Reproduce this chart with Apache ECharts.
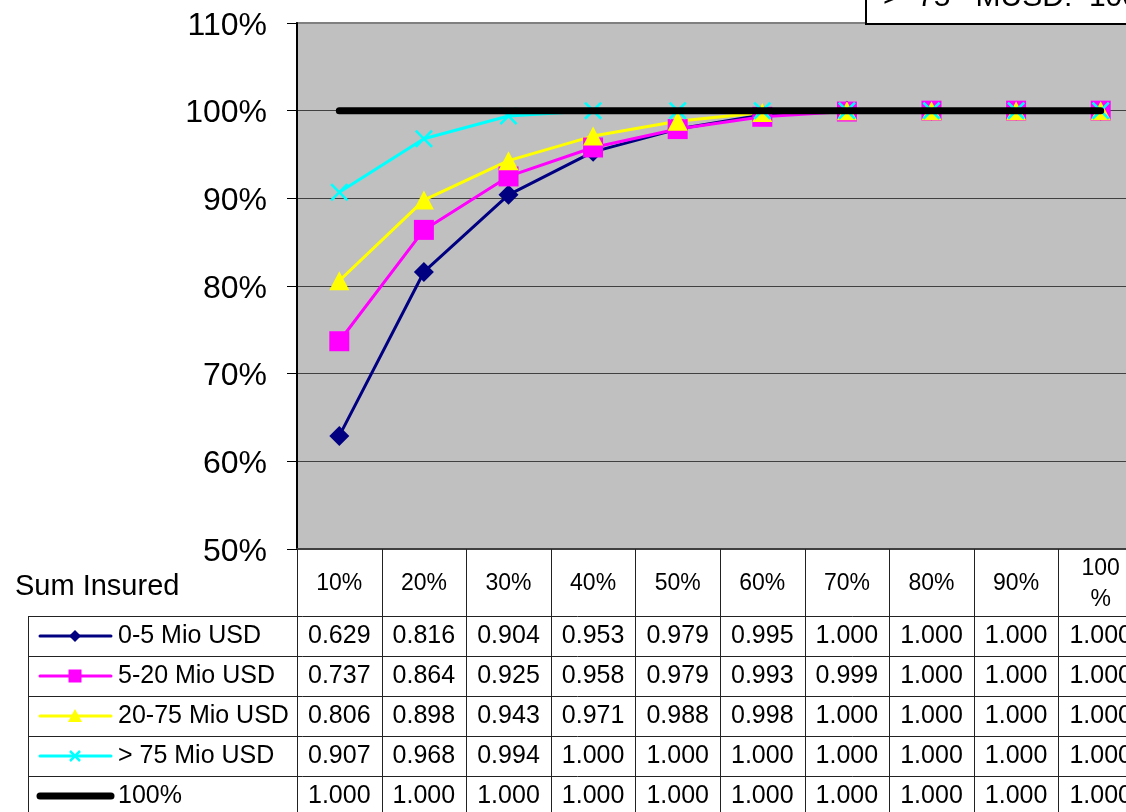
<!DOCTYPE html>
<html><head><meta charset="utf-8">
<script src="https://cdn.jsdelivr.net/npm/echarts@6/dist/echarts.min.js"></script>
<style>html,body{margin:0;padding:0;background:#fff}#c{width:1126px;height:812px}</style>
</head><body><div id="c"></div>
<script>
// ---- data ----
const categories = ['10%', '20%', '30%', '40%', '50%', '60%', '70%', '80%', '90%', '100%'];
const seriesNames = ['0-5 Mio USD', '5-20 Mio USD', '20-75 Mio USD', '> 75 Mio USD', '100%'];
const sumInsured0to5 = [0.629, 0.816, 0.904, 0.953, 0.979, 0.995, 1.000, 1.000, 1.000, 1.000];
const sumInsured5to20 = [0.737, 0.864, 0.925, 0.958, 0.979, 0.993, 0.999, 1.000, 1.000, 1.000];
const sumInsured20to75 = [0.806, 0.898, 0.943, 0.971, 0.988, 0.998, 1.000, 1.000, 1.000, 1.000];
const sumInsuredOver75 = [0.907, 0.968, 0.994, 1.000, 1.000, 1.000, 1.000, 1.000, 1.000, 1.000];
const hundredPercent = [1.000, 1.000, 1.000, 1.000, 1.000, 1.000, 1.000, 1.000, 1.000, 1.000];
const yMin = 0.5, yMax = 1.1, yStep = 0.1;
const tableTitle = 'Sum Insured';
const boxText = '>  75   MUSD:  100%';

const allSeries = [sumInsured0to5, sumInsured5to20, sumInsured20to75, sumInsuredOver75, hundredPercent];
const colors = ['#000080', '#FF00FF', '#FFFF00', '#00FFFF', '#000000'];
const FONT = '"Liberation Sans", Arial, sans-serif';
const xPath = 'path://M0,2L2,0L10,8L18,0L20,2L12,10L20,18L18,20L10,12L2,20L0,18L8,10Z';
const symbols = ['diamond', 'rect', 'triangle', xPath, 'none'];
const symSizes = [20, 20, [20, 19], 18, 0];

const chart = echarts.init(document.getElementById('c'), null, {renderer: 'canvas'});
const option = {
  animation: false,
  backgroundColor: '#ffffff',
  grid: {left: 297, top: 23, right: -17, bottom: 263, show: true, outerBoundsMode: 'none', containLabel: false,
    backgroundColor: '#C0C0C0', borderColor: '#808080', borderWidth: 2},
  xAxis: {type: 'category', data: categories, boundaryGap: true,
    axisLine: {lineStyle: {color: '#404040', width: 2}},
    axisTick: {show: false}, axisLabel: {show: false}, splitLine: {show: false}},
  yAxis: {type: 'value', min: yMin, max: yMax, interval: yStep,
    axisLine: {show: true, lineStyle: {color: '#000', width: 2}},
    axisTick: {show: true, inside: false, length: 10, lineStyle: {color: '#000', width: 1}},
    axisLabel: {margin: 30, color: '#000',
      formatter: v => '{t|' + Math.round(v * 100) + '%}',
      rich: {t: {fontSize: 32, fontFamily: FONT, color: '#000', padding: [6, 0, 0, 0]}}},
    splitLine: {show: true, lineStyle: {color: ['#404040', '#404040', '#404040', '#404040', '#404040', '#404040', '#808080'], width: 1}}},
  series: allSeries.map((d, i) => ({
    type: 'line', name: seriesNames[i], data: d,
    z: i === 4 ? 5 : 2,
    symbol: symbols[i], symbolSize: symSizes[i], showSymbol: i !== 4,
    lineStyle: {color: colors[i], width: i === 4 ? 7 : 3, cap: 'round'},
    itemStyle: {color: colors[i], borderWidth: 0},
    emphasis: {disabled: true}
  }))
};
chart.setOption(option);

// ---- data table built from the axis scale ----
const cx = categories.map((c, i) => chart.convertToPixel({xAxisIndex: 0}, i));
const half = (cx[1] - cx[0]) / 2;
const yBottom = chart.convertToPixel({yAxisIndex: 0}, yMin);
const rowTops = [616, 656, 696, 736, 776];
const rowH = 40;
const tableLeft = 28;
const lineColor = '#222';
const g = [];
const rightEdge = cx[cx.length - 1] + half;
for (let i = 0; i <= categories.length; i++) {
  const x = Math.round(cx[0] - half + i * 2 * half) + 0.5;
  g.push({type: 'line', shape: {x1: x, y1: yBottom, x2: x, y2: 830}, style: {stroke: lineColor, lineWidth: 1}, z: 10});
}
g.push({type: 'line', shape: {x1: tableLeft + 0.5, y1: rowTops[0], x2: tableLeft + 0.5, y2: 830}, style: {stroke: lineColor, lineWidth: 1}, z: 10});
rowTops.forEach(y => g.push({type: 'line', shape: {x1: tableLeft, y1: y + 0.5, x2: rightEdge, y2: y + 0.5}, style: {stroke: lineColor, lineWidth: 1}, z: 10}));
g.push({type: 'text', x: 15, y: 587, style: {text: tableTitle, font: '29px ' + FONT, fill: '#000', verticalAlign: 'middle', align: 'left'}, z: 10});
const headY = (yBottom + rowTops[0]) / 2 + 1;
categories.forEach((c, i) => {
  if (c.length > 3) {
    g.push({type: 'text', x: cx[i], y: headY - 15, style: {text: c.slice(0, 3), font: '23px ' + FONT, fill: '#000', align: 'center', verticalAlign: 'middle'}, z: 10});
    g.push({type: 'text', x: cx[i], y: headY + 16, style: {text: c.slice(3), font: '23px ' + FONT, fill: '#000', align: 'center', verticalAlign: 'middle'}, z: 10});
  } else {
    g.push({type: 'text', x: cx[i], y: headY, style: {text: c, font: '23px ' + FONT, fill: '#000', align: 'center', verticalAlign: 'middle'}, z: 10});
  }
});
allSeries.forEach((d, r) => {
  const yc = rowTops[r] + rowH / 2;
  const col = colors[r];
  g.push({type: 'line', shape: {x1: 40, y1: yc, x2: 111, y2: yc}, style: {stroke: col, lineWidth: r === 4 ? 7 : 3, lineCap: 'round'}, z: 10});
  const mx = 75;
  if (r === 0) g.push({type: 'polygon', shape: {points: [[mx, yc - 6], [mx + 6, yc], [mx, yc + 6], [mx - 6, yc]]}, style: {fill: col}, z: 11});
  if (r === 1) g.push({type: 'rect', shape: {x: mx - 6.5, y: yc - 6.5, width: 13, height: 13}, style: {fill: col}, z: 11});
  if (r === 2) g.push({type: 'polygon', shape: {points: [[mx, yc - 7], [mx + 7, yc + 6], [mx - 7, yc + 6]]}, style: {fill: col}, z: 11});
  if (r === 3) {
    g.push({type: 'line', shape: {x1: mx - 5, y1: yc - 5, x2: mx + 5, y2: yc + 5}, style: {stroke: col, lineWidth: 2.5}, z: 11});
    g.push({type: 'line', shape: {x1: mx + 5, y1: yc - 5, x2: mx - 5, y2: yc + 5}, style: {stroke: col, lineWidth: 2.5}, z: 11});
  }
  g.push({type: 'text', x: 118, y: yc, style: {text: seriesNames[r], font: '25px ' + FONT, fill: '#000', align: 'left', verticalAlign: 'middle'}, z: 10});
  d.forEach((v, i) => {
    g.push({type: 'text', x: cx[i], y: yc, style: {text: v.toFixed(3), font: '25px ' + FONT, fill: '#000', align: 'center', verticalAlign: 'middle'}, z: 10});
  });
});
g.push({type: 'rect', shape: {x: 866, y: -40, width: 400, height: 64}, style: {fill: '#fff', stroke: '#000', lineWidth: 2}, z: 12});
g.push({type: 'text', x: 883, y: -2, style: {text: boxText, font: '30px ' + FONT, fill: '#000', align: 'left', verticalAlign: 'middle'}, z: 13});

chart.setOption({graphic: {elements: g}});
</script>
</body></html>
